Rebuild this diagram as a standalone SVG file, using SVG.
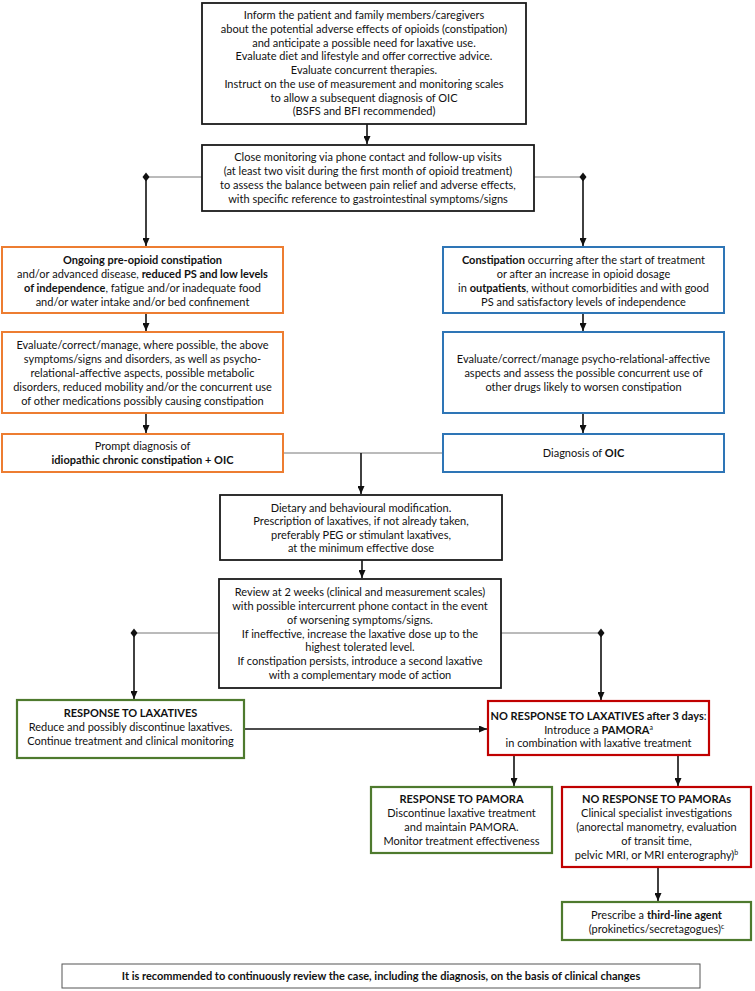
<svg xmlns="http://www.w3.org/2000/svg" width="755" height="991" viewBox="0 0 755 991">
<defs>
<style>
text{font-family:Lato,"Liberation Sans",sans-serif;font-size:11px;fill:#111;text-anchor:middle}
.b{font-weight:bold}
.sup{font-size:7px}
.k{fill:#fff;stroke:#1a1a1a;stroke-width:1.8}
.o{fill:#fff;stroke:#ED7D31;stroke-width:2}
.bl{fill:#fff;stroke:#2E75B6;stroke-width:2}
.g{fill:#fff;stroke:#4E7A2E;stroke-width:2.2}
.r{fill:#fff;stroke:#C00000;stroke-width:2.2}
.gr{fill:#fff;stroke:#555;stroke-width:1}
.ln{fill:none;stroke:#777;stroke-width:1}
.ar{fill:none;stroke:#111;stroke-width:1.6;marker-end:url(#ah)}
.dm{fill:#111}
</style>
<marker id="ah" viewBox="0 0 10 10" refX="10" refY="5" markerWidth="8" markerHeight="7" markerUnits="userSpaceOnUse" orient="auto" preserveAspectRatio="none">
<path d="M0,0 L10,5 L0,10 z" fill="#111"/>
</marker>
<path id="dia" d="M0,-4.5 L3.5,0 L0,4.5 L-3.5,0 z"/>
</defs>

<g id="connectors">
<line class="ar" x1="367" y1="124" x2="367" y2="144"/>
<path class="ln" d="M202,177 H146"/>
<path class="ln" d="M534,177 H583"/>
<use href="#dia" class="dm" x="146" y="177"/>
<use href="#dia" class="dm" x="583" y="177"/>
<line class="ar" x1="146" y1="177" x2="146" y2="246"/>
<line class="ar" x1="583" y1="177" x2="583" y2="246"/>
<line class="ar" x1="146" y1="313" x2="146" y2="331"/>
<line class="ar" x1="583" y1="313" x2="583" y2="331"/>
<line class="ar" x1="146" y1="413" x2="146" y2="433"/>
<line class="ar" x1="583" y1="413" x2="583" y2="433"/>
<path class="ln" d="M283,453 H443"/>
<line class="ar" x1="361" y1="453" x2="361" y2="494"/>
<line class="ar" x1="362" y1="560" x2="362" y2="578"/>
<path class="ln" d="M219,633 H134"/>
<path class="ln" d="M501,633 H601"/>
<use href="#dia" class="dm" x="134" y="633"/>
<use href="#dia" class="dm" x="601" y="633"/>
<line class="ar" x1="134" y1="633" x2="134" y2="699"/>
<line class="ar" x1="601" y1="633" x2="601" y2="700"/>
<line class="ar" x1="244" y1="729" x2="487" y2="729"/>
<line class="ar" x1="514" y1="755" x2="514" y2="786"/>
<line class="ar" x1="678" y1="755" x2="678" y2="786"/>
<line class="ar" x1="658" y1="867" x2="658" y2="901"/>
</g>

<g id="n1">
<rect class="k" x="202" y="3" width="324" height="121"/>
<text x="364" y="19">Inform the patient and family members/caregivers</text>
<text x="364" y="33">about the potential adverse effects of opioids (constipation)</text>
<text x="364" y="46.5">and anticipate a possible need for laxative use.</text>
<text x="364" y="60">Evaluate diet and lifestyle and offer corrective advice.</text>
<text x="364" y="74">Evaluate concurrent therapies.</text>
<text x="364" y="88">Instruct on the use of measurement and monitoring scales</text>
<text x="364" y="101.5">to allow a subsequent diagnosis of OIC</text>
<text x="364" y="115">(BSFS and BFI recommended)</text>
</g>

<g id="n2">
<rect class="k" x="202" y="145" width="332" height="66"/>
<text x="368" y="161">Close monitoring via phone contact and follow-up visits</text>
<text x="368" y="175">(at least two visit during the first month of opioid treatment)</text>
<text x="368" y="189">to assess the balance between pain relief and adverse effects,</text>
<text x="368" y="203">with specific reference to gastrointestinal symptoms/signs</text>
</g>

<g id="n3">
<rect class="o" x="2" y="247" width="281" height="66"/>
<text x="142.5" y="263.5" class="b">Ongoing pre-opioid constipation</text>
<text x="142.5" y="277.5">and/or advanced disease, <tspan class="b">reduced PS and low levels</tspan></text>
<text x="142.5" y="291.5"><tspan class="b">of independence</tspan>, fatigue and/or inadequate food</text>
<text x="142.5" y="305.5">and/or water intake and/or bed confinement</text>
</g>

<g id="n4">
<rect class="o" x="2" y="332" width="281" height="81"/>
<text x="142.5" y="348.5">Evaluate/correct/manage, where possible, the above</text>
<text x="142.5" y="362.5">symptoms/signs and disorders, as well as psycho-</text>
<text x="142.5" y="376.5">relational-affective aspects, possible metabolic</text>
<text x="142.5" y="390.5">disorders, reduced mobility and/or the concurrent use</text>
<text x="142.5" y="404.5">of other medications possibly causing constipation</text>
</g>

<g id="n5">
<rect class="o" x="2" y="434" width="281" height="38"/>
<text x="142.5" y="450">Prompt diagnosis of</text>
<text x="142.5" y="464" class="b">idiopathic chronic constipation + OIC</text>
</g>

<g id="n6">
<rect class="bl" x="443" y="247" width="281" height="66"/>
<text x="583.5" y="263.5"><tspan class="b">Constipation</tspan> occurring after the start of treatment</text>
<text x="583.5" y="277.5">or after an increase in opioid dosage</text>
<text x="583.5" y="291.5">in <tspan class="b">outpatients</tspan>, without comorbidities and with good</text>
<text x="583.5" y="305.5">PS and satisfactory levels of independence</text>
</g>

<g id="n7">
<rect class="bl" x="443" y="332" width="281" height="81"/>
<text x="583.5" y="363">Evaluate/correct/manage psycho-relational-affective</text>
<text x="583.5" y="377">aspects and assess the possible concurrent use of</text>
<text x="583.5" y="391">other drugs likely to worsen constipation</text>
</g>

<g id="n8">
<rect class="bl" x="443" y="434" width="281" height="38"/>
<text x="583.5" y="457">Diagnosis of <tspan class="b">OIC</tspan></text>
</g>

<g id="n9">
<rect class="k" x="220" y="495" width="282" height="65"/>
<text x="361" y="511.5">Dietary and behavioural modification.</text>
<text x="361" y="525">Prescription of laxatives, if not already taken,</text>
<text x="361" y="538.5">preferably PEG or stimulant laxatives,</text>
<text x="361" y="552">at the minimum effective dose</text>
</g>

<g id="n10">
<rect class="k" x="219" y="579" width="282" height="109"/>
<text x="360" y="596">Review at 2 weeks (clinical and measurement scales)</text>
<text x="360" y="610">with possible intercurrent phone contact in the event</text>
<text x="360" y="624">of worsening symptoms/signs.</text>
<text x="360" y="637.5">If ineffective, increase the laxative dose up to the</text>
<text x="360" y="651">highest tolerated level.</text>
<text x="360" y="665">If constipation persists, introduce a second laxative</text>
<text x="360" y="679">with a complementary mode of action</text>
</g>

<g id="n11">
<rect class="g" x="17" y="700" width="227" height="58"/>
<text x="130.5" y="717" class="b">RESPONSE TO LAXATIVES</text>
<text x="130.5" y="731">Reduce and possibly discontinue laxatives.</text>
<text x="130.5" y="744.5">Continue treatment and clinical monitoring</text>
</g>

<g id="n12">
<rect class="r" x="488" y="701" width="221" height="54"/>
<text x="598.5" y="720"><tspan class="b">NO RESPONSE TO LAXATIVES after 3 days</tspan>:</text>
<text x="598.5" y="733.5">Introduce a <tspan class="b">PAMORA</tspan><tspan class="sup" dy="-4">a</tspan></text>
<text x="598.5" y="747">in combination with laxative treatment</text>
</g>

<g id="n13">
<rect class="g" x="371" y="787" width="181" height="66"/>
<text x="461.5" y="803" class="b">RESPONSE TO PAMORA</text>
<text x="461.5" y="817">Discontinue laxative treatment</text>
<text x="461.5" y="831">and maintain PAMORA.</text>
<text x="461.5" y="845">Monitor treatment effectiveness</text>
</g>

<g id="n14">
<rect class="r" x="562" y="787" width="189" height="80"/>
<text x="656.5" y="803" class="b">NO RESPONSE TO PAMORAs</text>
<text x="656.5" y="817">Clinical specialist investigations</text>
<text x="656.5" y="831">(anorectal manometry, evaluation</text>
<text x="656.5" y="845">of transit time,</text>
<text x="656.5" y="859">pelvic MRI, or MRI enterography)<tspan class="sup" dy="-4">b</tspan></text>
</g>

<g id="n15">
<rect class="g" x="562" y="902" width="189" height="38"/>
<text x="656.5" y="919">Prescribe a <tspan class="b">third-line agent</tspan></text>
<text x="656.5" y="933">(prokinetics/secretagogues)<tspan class="sup" dy="-4">c</tspan></text>
</g>

<g id="n16">
<rect class="gr" x="62" y="964" width="638" height="24"/>
<text x="381" y="980" class="b">It is recommended to continuously review the case, including the diagnosis, on the basis of clinical changes</text>
</g>
</svg>
